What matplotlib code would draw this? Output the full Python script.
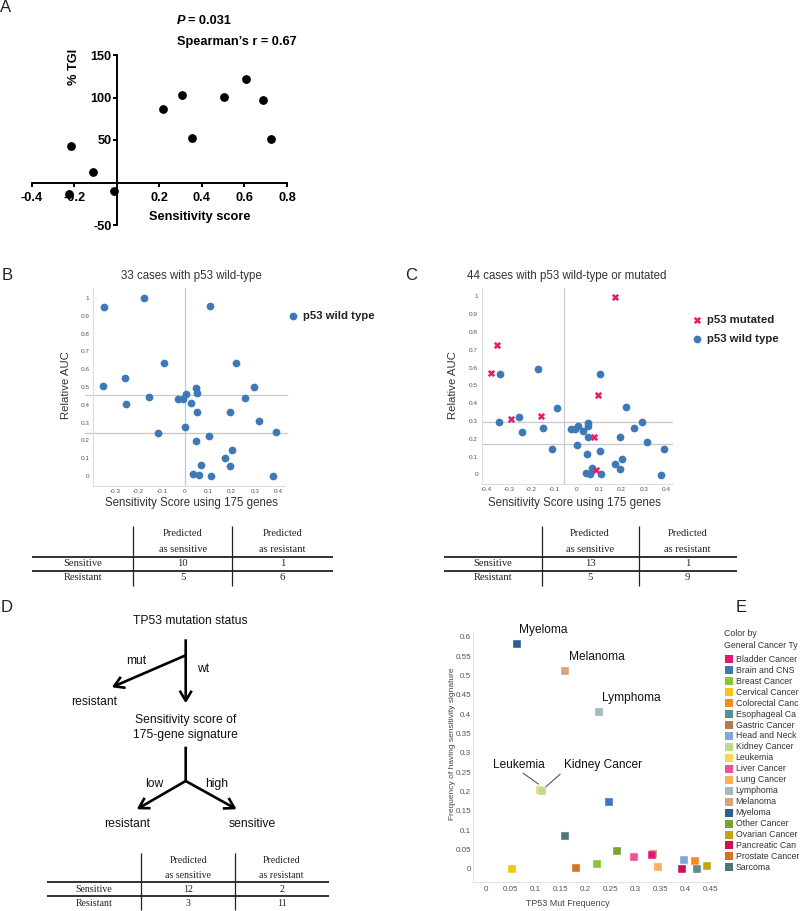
import matplotlib
matplotlib.use('Agg')
import matplotlib.pyplot as plt
from matplotlib.patches import FancyArrowPatch, Rectangle

plt.rcParams['font.family'] = ['Liberation Sans', 'DejaVu Sans']
plt.rcParams['axes.unicode_minus'] = False

W, H = 800, 911

# ---------------- Data ----------------
# Panel A
a_score = [-0.215, -0.113, -0.224, -0.014, 0.215, 0.304, 0.354, 0.505, 0.606, 0.687, 0.726]
a_tgi = [43.5, 12.6, -13.3, -10.0, 86.7, 102.4, 52.6, 100.8, 121.6, 97.6, 50.6]
a_xticks = [-0.4, -0.2, 0.2, 0.4, 0.6, 0.8]
a_yticks = [-50, 50, 100, 150]

# Panel B (p53 wild type only)
b_score = [-0.347, -0.178, 0.106, -0.092, 0.221, -0.353, -0.259, -0.254, -0.155, -0.029,
           -0.009, 0.006, 0.024, 0.049, 0.050, 0.050, 0.001, -0.116, 0.047, 0.105,
           0.296, 0.258, 0.195, 0.317, 0.393, 0.204, 0.172, 0.195, 0.067, 0.036,
           0.059, 0.110, 0.377]
b_auc = [0.951, 1.0, 0.957, 0.633, 0.637, 0.504, 0.551, 0.403, 0.446, 0.434,
         0.434, 0.461, 0.412, 0.493, 0.466, 0.361, 0.275, 0.240, 0.198, 0.225,
         0.502, 0.440, 0.358, 0.309, 0.245, 0.146, 0.099, 0.056, 0.063, 0.013,
         0.007, 0.002, 0.0]
b_hlines = [0.455, 0.24]
b_vline = 0.0
b_xticks = [-0.3, -0.2, -0.1, 0, 0.1, 0.2, 0.3, 0.4]

# Panel C (wild type + mutated)
c_mut_score = [0.172, -0.354, -0.380, 0.095, -0.290, -0.158, 0.076, 0.089]
c_mut_auc = [0.996, 0.728, 0.567, 0.445, 0.312, 0.329, 0.211, 0.026]
c_wt_score = [-0.339, -0.172, 0.107, 0.219, -0.087, -0.344, -0.255, -0.244, -0.149, -0.111,
              -0.025, -0.007, 0.008, 0.027, 0.051, 0.052, 0.052, 0.003, 0.105, 0.049,
              0.292, 0.256, 0.196, 0.314, 0.390, 0.202, 0.173, 0.196, 0.070, 0.042,
              0.062, 0.111, 0.375]
c_wt_auc = [0.563, 0.592, 0.565, 0.376, 0.374, 0.296, 0.324, 0.236, 0.262, 0.140,
            0.254, 0.254, 0.270, 0.242, 0.288, 0.273, 0.211, 0.163, 0.133, 0.116,
            0.296, 0.260, 0.208, 0.180, 0.144, 0.084, 0.056, 0.032, 0.037, 0.006,
            0.0, 0.0, -0.002]
c_hlines = [0.293, 0.168]
c_vline = -0.057
c_xticks = [-0.4, -0.3, -0.2, -0.1, 0, 0.1, 0.2, 0.3, 0.4]
auc_yticks = [0, 0.1, 0.2, 0.3, 0.4, 0.5, 0.6, 0.7, 0.8, 0.9, 1]

# Confusion tables
tab_b = [[10, 1], [5, 6]]
tab_c = [[13, 1], [5, 9]]
tab_d = [[12, 2], [3, 11]]
row_names = ['Sensitive', 'Resistant']
col_names = [['Predicted', 'as sensitive'], ['Predicted', 'as resistant']]

# Panel E
e_cats = ['Bladder Cancer', 'Brain and CNS', 'Breast Cancer', 'Cervical Cancer', 'Colorectal Canc',
          'Esophageal Ca', 'Gastric Cancer', 'Head and Neck', 'Kidney Cancer', 'Leukemia',
          'Liver Cancer', 'Lung Cancer', 'Lymphoma', 'Melanoma', 'Myeloma',
          'Other Cancer', 'Ovarian Cancer', 'Pancreatic Can', 'Prostate Cancer', 'Sarcoma']
e_mut = [0.333, 0.246, 0.223, 0.052, 0.419, 0.424, 0.336, 0.398, 0.112, 0.109,
         0.296, 0.346, 0.226, 0.159, 0.063, 0.262, 0.443, 0.394, 0.181, 0.159]
e_sig = [0.035, 0.172, 0.013, -0.002, 0.021, -0.002, 0.038, 0.022, 0.200, 0.204,
         0.031, 0.004, 0.404, 0.510, 0.580, 0.047, 0.007, -0.002, 0.001, 0.085]
e_colors = ['#e8156d', '#3b77b8', '#8cc43f', '#f3c515', '#f6891f', '#5b8d8e', '#b37b4c',
            '#80a6d8', '#bcdc86', '#fad65a', '#ef4f98', '#f8b15c', '#a0babe', '#d4a47f',
            '#2c5e93', '#79a52c', '#c9a211', '#cb1055', '#d5741c', '#4f7575']
e_xticks = [0, 0.05, 0.1, 0.15, 0.2, 0.25, 0.3, 0.35, 0.4, 0.45]
e_yticks = [0, 0.05, 0.1, 0.15, 0.2, 0.25, 0.3, 0.35, 0.4, 0.45, 0.5, 0.55, 0.6]
e_labelled = ['Myeloma', 'Melanoma', 'Lymphoma', 'Leukemia', 'Kidney Cancer']

# ---------------- Figure ----------------
fig = plt.figure(figsize=(W / 100, H / 100), dpi=100)
fig.patch.set_facecolor('white')


def axes_px(left, top, right, bottom):
    return fig.add_axes([left / W, 1 - bottom / H, (right - left) / W, (bottom - top) / H])


def fmt(v):
    return ('%g' % round(v, 2))


BLUE = '#3e79b7'
PINK = '#e8196c'
GRID = '#c8c8c8'

# ---- Panel A ----
axa = axes_px(32, 55, 287, 225)
axa.set_xlim(-0.4, 0.8)
axa.set_ylim(-50, 150)
axa.patch.set_alpha(0)
for s in ['top', 'right']:
    axa.spines[s].set_visible(False)
axa.spines['left'].set_position(('data', 0))
axa.spines['bottom'].set_position(('data', 0))
for s in ['left', 'bottom']:
    axa.spines[s].set_linewidth(1.4)
axa.scatter(a_score, a_tgi, s=28, color='black', zorder=3, clip_on=False)
axa.set_xticks(a_xticks, labels=[fmt(v) for v in a_xticks], fontweight='bold', fontsize=9.2)
axa.set_yticks(a_yticks, labels=[fmt(v) for v in a_yticks], fontweight='bold', fontsize=9.2)
axa.tick_params(axis='x', direction='out', length=3, width=1.4, pad=4)
axa.tick_params(axis='y', direction='out', length=3, width=1.4, pad=1)


# ---- Panels B & C ----
def style_auc(ax, xticks):
    ax.patch.set_alpha(0)
    for s in ['top', 'right']:
        ax.spines[s].set_visible(False)
    for s in ['left', 'bottom']:
        ax.spines[s].set_color('#dddddd')
        ax.spines[s].set_linewidth(0.8)
    ax.set_xticks(xticks, labels=[fmt(v) for v in xticks])
    ax.set_yticks(auc_yticks, labels=[fmt(v) for v in auc_yticks])
    ax.tick_params(length=0, labelsize=4.6, labelcolor='#555555', pad=2.5)


axb = axes_px(93, 288, 285, 486)
axb.set_xlim(-0.396, 0.430)
axb.set_ylim(-0.056, 1.056)
style_auc(axb, b_xticks)
axb.axvline(b_vline, color=GRID, lw=0.9, zorder=1)
for hv in b_hlines:
    axb.axhline(hv, xmin=-0.04, xmax=1.01, color=GRID, lw=0.9, zorder=1, clip_on=False)
axb.scatter(b_score, b_auc, s=31, color=BLUE, zorder=3, clip_on=False, linewidths=0)

axc = axes_px(481.5, 288.3, 673, 484)
axc.set_xlim(-0.423, 0.430)
axc.set_ylim(-0.0545, 1.045)
style_auc(axc, c_xticks)
axc.axvline(c_vline, color=GRID, lw=0.9, zorder=1)
for hv in c_hlines:
    axc.axhline(hv, color=GRID, lw=0.9, zorder=1)
axc.scatter(c_wt_score, c_wt_auc, s=31, color=BLUE, zorder=3, clip_on=False, linewidths=0)
axc.scatter(c_mut_score, c_mut_auc, s=27, color=PINK, marker='X', zorder=4, clip_on=False,
            linewidths=0)

# ---- Panel E ----
axe = axes_px(473.3, 631.7, 718.3, 881.7)
axe.set_xlim(-0.0248, 0.4658)
axe.set_ylim(-0.0336, 0.6129)
axe.patch.set_alpha(0)
for s in ['top', 'right']:
    axe.spines[s].set_visible(False)
for s in ['left', 'bottom']:
    axe.spines[s].set_color('#e2e2e2')
    axe.spines[s].set_linewidth(0.8)
axe.set_xticks(e_xticks, labels=[fmt(v) for v in e_xticks])
axe.set_yticks(e_yticks, labels=[fmt(v) for v in e_yticks])
axe.tick_params(length=0, labelsize=5.8, labelcolor='#555555', pad=1.5)
axe.tick_params(axis='x', pad=3)
top_first = ['Kidney Cancer', 'Bladder Cancer']
for i, cat in enumerate(e_cats):
    z = 4 if cat in top_first else 3
    axe.scatter([e_mut[i]], [e_sig[i]], s=38, marker='s', color=e_colors[i],
                edgecolors='#f4f4f4', linewidths=0.3, zorder=z, clip_on=False)

# ---------------- Overlay (pixel coordinates) ----------------
ov = fig.add_axes([0, 0, 1, 1])
ov.set_xlim(0, W)
ov.set_ylim(H, 0)
ov.axis('off')
ov.patch.set_alpha(0)

# Panel letters
for letter, x, y in [('A', 6, 8), ('B', 7, 276), ('C', 411, 276), ('D', 7, 608), ('E', 741, 608)]:
    ov.text(x, y, letter, fontsize=12, color='#222222', ha='center', va='center')

# Panel A texts
ov.text(176.7, 21, 'P', fontsize=9.2, fontweight='bold', fontstyle='italic', ha='left', va='center')
ov.text(187.5, 21, '= 0.031', fontsize=9.2, fontweight='bold', ha='left', va='center')
ov.text(176.7, 41.7, 'Spearman\u2019s r = 0.67', fontsize=9.2, fontweight='bold', ha='left', va='center')
ov.text(74, 67, '% TGI', fontsize=9.2, fontweight='bold', rotation=90, ha='center', va='center')
ov.text(199.3, 217, 'Sensitivity score', fontsize=9.2, fontweight='bold', ha='center', va='center')

# Panel B/C texts
TXT = '#333333'
ov.text(191.7, 276.5, '33 cases with p53 wild-type', fontsize=8.3, color=TXT, ha='center', va='center')
ov.text(566.7, 275.7, '44 cases with p53 wild-type or mutated', fontsize=8.3, color=TXT,
        ha='center', va='center')
ov.text(66, 385, 'Relative AUC', fontsize=8.2, color=TXT, rotation=90, ha='center', va='center')
ov.text(452.7, 385, 'Relative AUC', fontsize=8.2, color=TXT, rotation=90, ha='center', va='center')
ov.text(191.5, 503, 'Sensitivity Score using 175 genes', fontsize=8.3, color=TXT, ha='center', va='center')
ov.text(574.7, 503, 'Sensitivity Score using 175 genes', fontsize=8.3, color=TXT, ha='center', va='center')

# legends B / C
ov.scatter([293], [316], s=31, color=BLUE, linewidths=0)
ov.text(303, 316, 'p53 wild type', fontsize=8.2, fontweight='bold', color='#222222', ha='left', va='center')
ov.scatter([697.3], [319.7], s=27, color=PINK, marker='X', linewidths=0)
ov.text(707, 319.7, 'p53 mutated', fontsize=8.2, fontweight='bold', color='#222222', ha='left', va='center')
ov.scatter([697.3], [339], s=31, color=BLUE, linewidths=0)
ov.text(707, 339, 'p53 wild type', fontsize=8.2, fontweight='bold', color='#222222', ha='left', va='center')


# Tables
def draw_table(vals, x0, x1, vx, ytop, yh1, yh2, ybot, yhead, yrows, xcenters, fs):
    for yy in (yh1, yh2):
        ov.plot([x0, x1], [yy, yy], color='#222222', lw=1.3, solid_capstyle='butt')
    for xx in vx:
        ov.plot([xx, xx], [ytop, ybot], color='#222222', lw=0.9, solid_capstyle='butt')
    for j, cn in enumerate(col_names):
        for k, t in enumerate(cn):
            ov.text(xcenters[j + 1], yhead[k], t, fontsize=fs, family='Liberation Serif',
                    color='#222222', ha='center', va='center')
    for r, rn in enumerate(row_names):
        ov.text(xcenters[0], yrows[r], rn, fontsize=fs, family='Liberation Serif',
                color='#222222', ha='center', va='center')
        for j in range(2):
            ov.text(xcenters[j + 1], yrows[r], str(vals[r][j]), fontsize=fs,
                    family='Liberation Serif', color='#222222', ha='center', va='center')


draw_table(tab_b, 32, 333, [132.7, 232.3], 525.7, 556.7, 570.7, 586,
           [533, 549], [563.8, 578], [82.7, 182.7, 282.3], 7.6)
draw_table(tab_c, 444, 737, [541.7, 639.3], 525.7, 556.7, 570.7, 586,
           [533, 549], [563.8, 578], [492.7, 590, 687.7], 7.6)
draw_table(tab_d, 46.7, 329, [141, 235], 853.3, 882.3, 896.3, 910,
           [860.7, 875], [889.3, 903.3], [94, 188.3, 281.7], 7.1)

# Panel D flow chart
FS_D = 8.7
ov.text(190, 620.7, 'TP53 mutation status', fontsize=FS_D, color='#111111', ha='center', va='center')
ov.text(136, 661.3, 'mut', fontsize=FS_D, color='#111111', ha='center', va='center')
ov.text(203.3, 669, 'wt', fontsize=FS_D, color='#111111', ha='center', va='center')
ov.text(94.5, 701.7, 'resistant', fontsize=FS_D, color='#111111', ha='center', va='center')
ov.text(185.5, 720.3, 'Sensitivity score of', fontsize=FS_D, color='#111111', ha='center', va='center')
ov.text(185.5, 735.3, '175-gene signature', fontsize=FS_D, color='#111111', ha='center', va='center')
ov.text(154.3, 784, 'low', fontsize=FS_D, color='#111111', ha='center', va='center')
ov.text(216.8, 784, 'high', fontsize=FS_D, color='#111111', ha='center', va='center')
ov.text(127.5, 824.2, 'resistant', fontsize=FS_D, color='#111111', ha='center', va='center')
ov.text(252.5, 824.2, 'sensitive', fontsize=FS_D, color='#111111', ha='center', va='center')


def arrow(p0, p1, head=True):
    style = '->,head_length=0.4,head_width=0.24' if head else '-'
    ov.add_patch(FancyArrowPatch(p0, p1, arrowstyle=style, mutation_scale=18, lw=1.9,
                                 color='black', shrinkA=0, shrinkB=0, capstyle='butt'))


arrow((185.7, 639.3), (185.7, 703.3))
arrow((185.7, 655.3), (111.7, 687.3))
arrow((185.7, 746.7), (185.7, 781.5), head=False)
arrow((185.7, 781), (136.7, 809.3))
arrow((185.7, 781), (236.7, 809.3))

# Panel E texts
ov.text(452, 744, 'Frequency of having sensitivity signature', fontsize=6, color='#444444',
        rotation=90, ha='center', va='center')
ov.text(568.3, 904, 'TP53 Mut Frequency', fontsize=6.4, color='#444444', ha='center', va='center')
lab_pos = {'Myeloma': (543.3, 630), 'Melanoma': (596.7, 657.5), 'Lymphoma': (631.3, 697.5),
           'Leukemia': (519.2, 765), 'Kidney Cancer': (602.8, 765)}
for name in e_labelled:
    x, y = lab_pos[name]
    ov.text(x, y, name, fontsize=8.6, color='#111111', ha='center', va='center')
ov.plot([523.3, 538.3], [773.3, 784], color='#555555', lw=0.8)
ov.plot([560, 546], [774.3, 786.7], color='#555555', lw=0.8)

# Panel E legend
ov.text(724.3, 634, 'Color by', fontsize=6.3, color='#333333', ha='left', va='center')
ov.text(724.3, 645.7, 'General Cancer Ty', fontsize=6.3, color='#333333', ha='left', va='center')
for i, cat in enumerate(e_cats):
    yy = 659.3 + i * 10.95
    ov.add_patch(Rectangle((728.7 - 4, yy - 4), 8, 8, color=e_colors[i], lw=0))
    ov.text(735.7, yy, cat, fontsize=6.3, color='#333333', ha='left', va='center')

fig.savefig('out.png', dpi=100)
